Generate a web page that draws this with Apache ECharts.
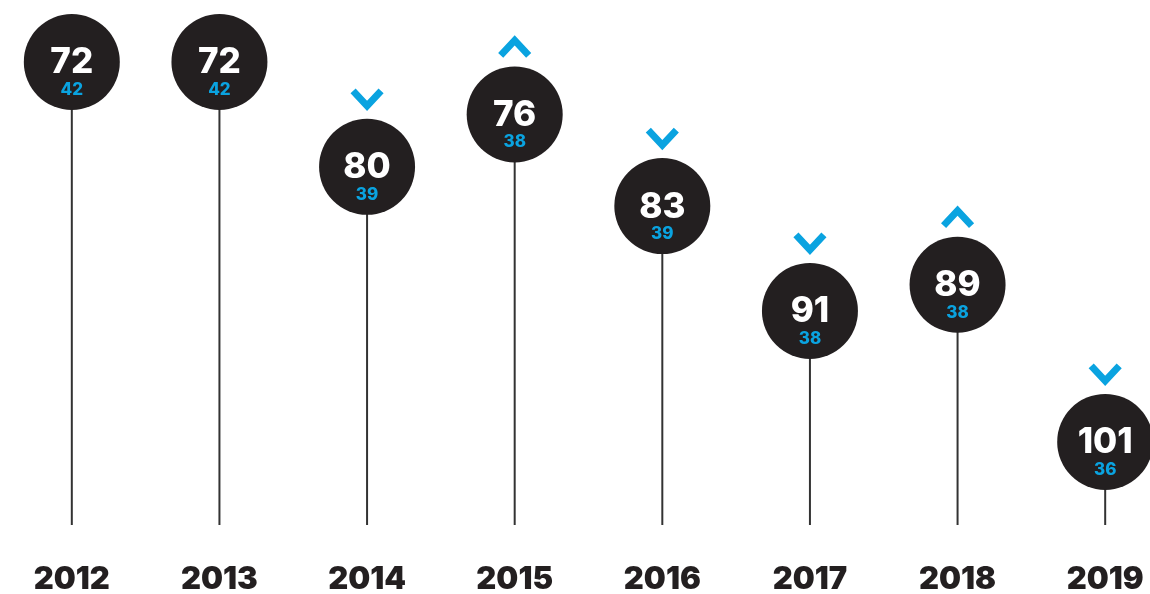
<!DOCTYPE html>
<html>
<head>
<meta charset="utf-8">
<script src="https://cdn.jsdelivr.net/npm/echarts@6/dist/echarts.min.js"></script>
<style>
html,body{margin:0;padding:0;background:#fff;}
#chart{width:1150px;height:594px;}
</style>
</head>
<body>
<div id="chart"></div>
<script>
// 年份 / 排名 / 分数 / 趋势
var years = ['2012', '2013', '2014', '2015', '2016', '2017', '2018', '2019'];
var ranks = [72, 72, 80, 76, 83, 91, 89, 101];
var scores = [42, 42, 39, 38, 39, 38, 38, 36];
var trends = ['', '', 'down', 'up', 'down', 'down', 'up', 'down'];

var dark = '#231f20';
var blue = '#0aa3e0';
var font = 'Inter, Lato, sans-serif';

var myChart = echarts.init(document.getElementById('chart'));

var seriesData = [];
for (var i = 0; i < years.length; i++) {
	seriesData.push([i, ranks[i], scores[i], trends[i]]);
}

function renderLollipop(params, api) {
	var idx = api.value(0);
	var pt = api.coord([idx, api.value(1)]);
	var baseY = params.coordSys.y + params.coordSys.height;
	var r = 48;
	var children = [
		{
			type: 'line',
			shape: {x1: pt[0], y1: pt[1], x2: pt[0], y2: baseY},
			style: {stroke: '#333', lineWidth: 2}
		},
		{
			type: 'circle',
			shape: {cx: pt[0], cy: pt[1], r: r},
			style: {fill: dark}
		},
		{
			type: 'text',
			x: pt[0], y: pt[1] + 1,
			style: {
				text: String(ranks[idx]), fill: '#fff', font: '800 35px ' + font,
				align: 'center', verticalAlign: 'middle'
			}
		},
		{
			type: 'text',
			x: pt[0], y: pt[1] + 28,
			style: {
				text: String(scores[idx]), fill: blue, font: '800 17px ' + font,
				align: 'center', verticalAlign: 'middle'
			}
		}
	];
	// 趋势箭头
	var t = trends[idx];
	if (t) {
		var pts = t == 'down'
			? [[pt[0] - 14, pt[1] - 76], [pt[0], pt[1] - 61], [pt[0] + 14, pt[1] - 76]]
			: [[pt[0] - 14, pt[1] - 59], [pt[0], pt[1] - 74], [pt[0] + 14, pt[1] - 59]];
		children.push({
			type: 'polyline',
			shape: {points: pts},
			style: {stroke: blue, lineWidth: 7, fill: null, lineJoin: 'miter', lineCap: 'butt'}
		});
	}
	return {type: 'group', children: children};
}

var option = {
	animation: false,
	grid: {left: -2, right: -29, top: 0, bottom: 69, containLabel: false, outerBoundsMode: 'none'},
	xAxis: {
		type: 'category',
		data: years,
		axisLine: {show: false},
		axisTick: {show: false},
		axisLabel: {
			margin: 39,
			color: '#231f20',
			fontSize: 31,
			fontWeight: 900,
			fontFamily: font
		}
	},
	yAxis: {
		type: 'value',
		inverse: true,
		min: 67.27,
		max: 107.34,
		show: false,
		splitLine: {show: false}
	},
	series: [
		{
			type: 'custom',
			clip: false,
			renderItem: renderLollipop,
			data: seriesData
		}
	]
};
myChart.setOption(option);
</script>
</body>
</html>
